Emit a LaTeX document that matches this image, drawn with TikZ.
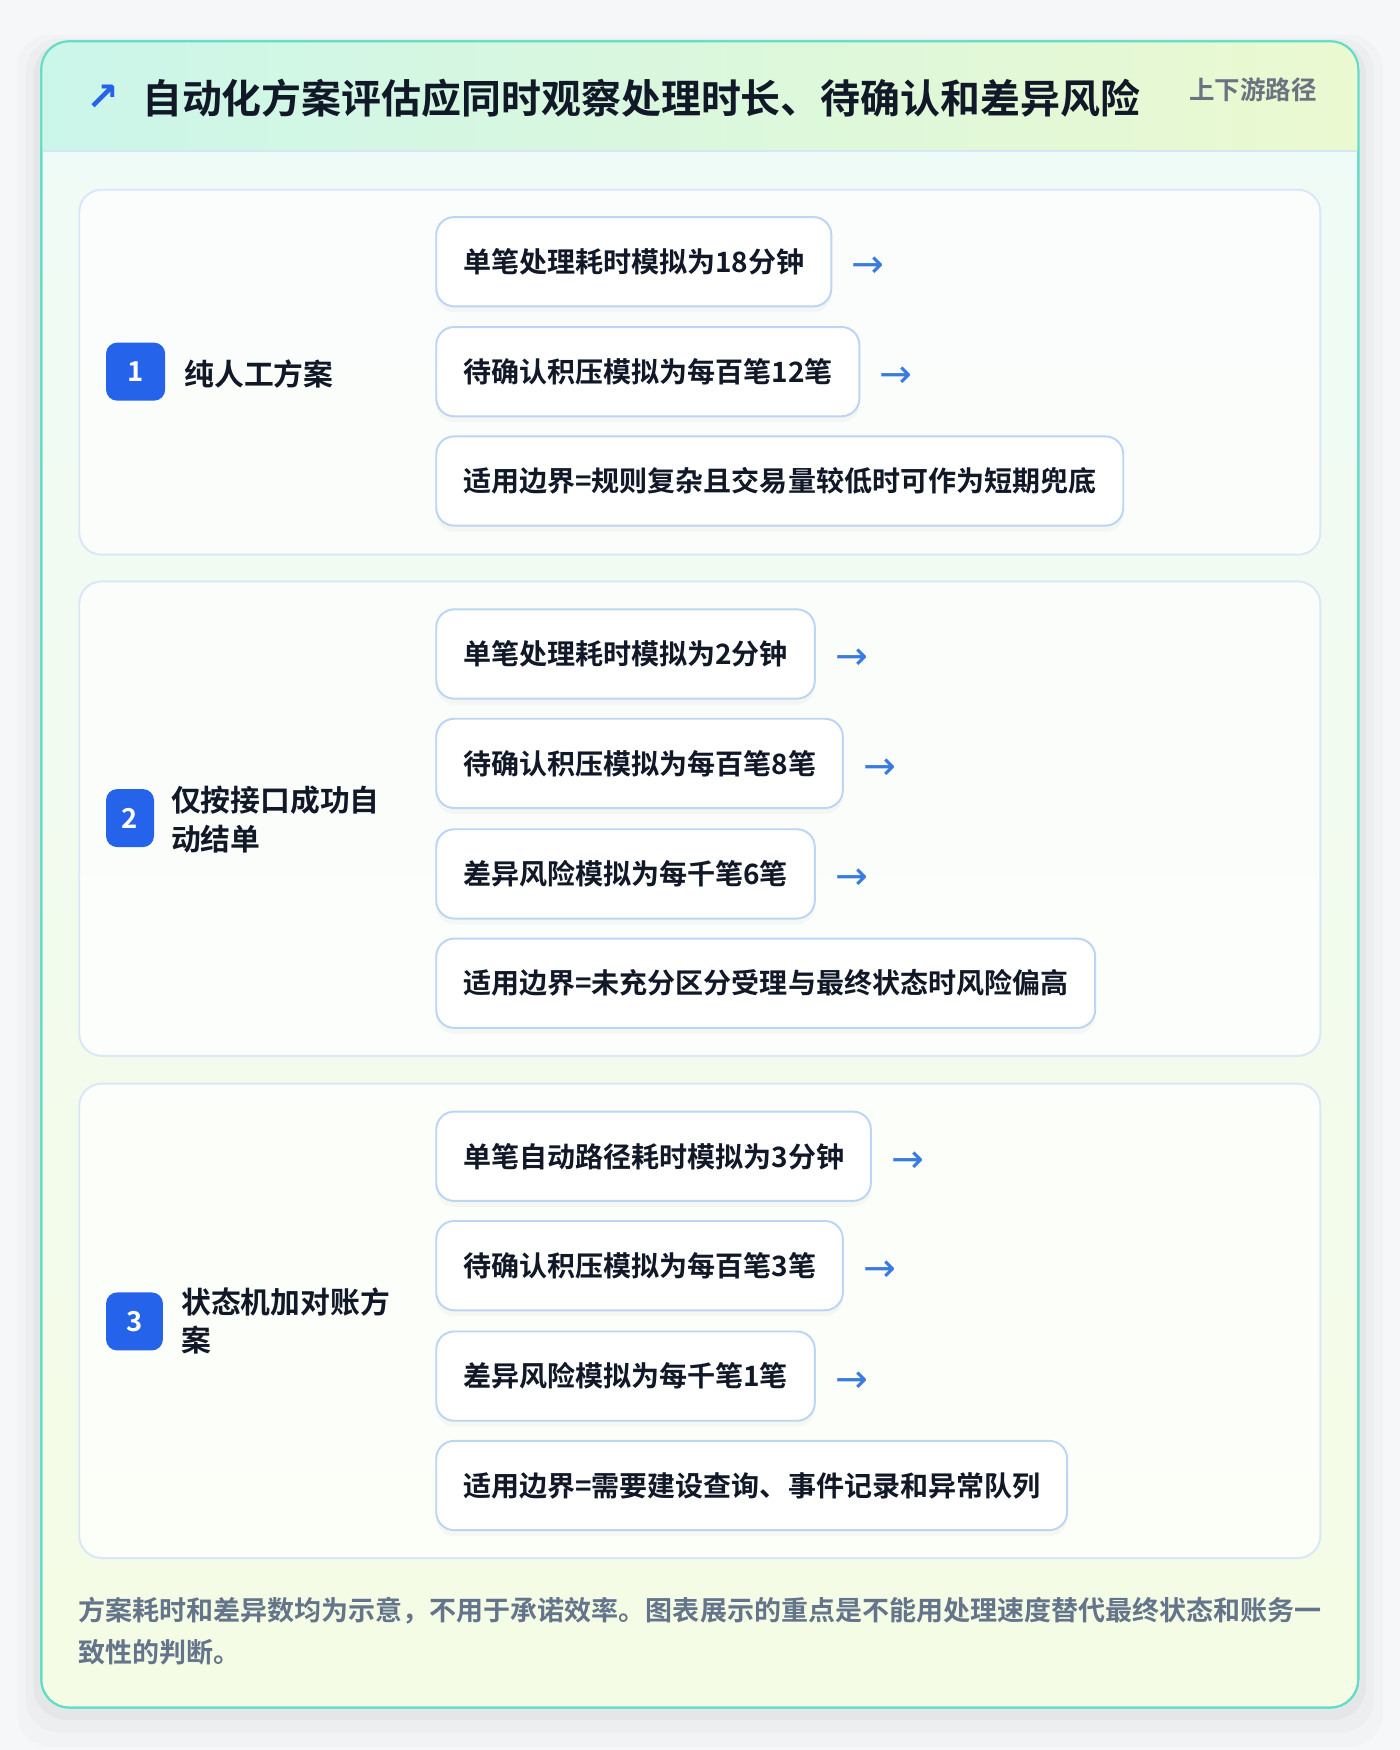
\documentclass[tikz,border=0pt]{standalone}
\usepackage{fontspec}
\setmainfont{Noto Sans CJK SC}[BoldFont={Noto Sans CJK SC Bold}]
\newfontfamily\symfont{DejaVu Sans}
\usetikzlibrary{positioning,shadows}
\definecolor{pagebg}{HTML}{F6F7F8}
\definecolor{cardline}{HTML}{5EDDC7}
\definecolor{headleft}{HTML}{CBF6EA}
\definecolor{headright}{HTML}{EBF9D0}
\definecolor{bodytop}{HTML}{EFFBF7}
\definecolor{bodybottom}{HTML}{F5FCE5}
\definecolor{headline}{HTML}{D6E6F5}
\definecolor{panelline}{HTML}{D9E7F8}
\definecolor{boxline}{HTML}{BCD5F5}
\definecolor{inkblack}{HTML}{111827}
\definecolor{badgeblue}{HTML}{2563EB}
\definecolor{arrowblue}{HTML}{3A7BE0}
\definecolor{tagGray}{HTML}{6B7280}
\definecolor{noteGray}{HTML}{64748B}
\tikzset{
  itembox/.style={draw=boxline, line width=1pt, fill=white, rounded corners=0.32cm,
    anchor=west, minimum height=1.6cm, inner xsep=0.48cm, inner ysep=0pt,
    text=inkblack, font=\fontsize{14.3}{17}\selectfont\bfseries,
    drop shadow={opacity=0.05, shadow xshift=0pt, shadow yshift=-3pt}},
  arrowmark/.style={text=arrowblue, inner sep=0pt, yshift=-0.1cm,
    font=\symfont\fontsize{20}{20}\selectfont},
  badge/.style={fill=badgeblue, text=white, rounded corners=0.2cm,
    minimum height=1.04cm, minimum width=#1, inner sep=0pt,
    font=\fontsize{14}{14}\selectfont\bfseries},
  grouplabel/.style={anchor=west, align=left, text=inkblack, inner sep=0pt,
    font=\fontsize{15.2}{19.8}\selectfont\bfseries},
  panel/.style={draw=panelline, line width=1pt, fill=white, fill opacity=0.75,
    rounded corners=0.4cm}
}
\begin{document}
\begin{tikzpicture}[x=0.02cm, y=-0.02cm]
  \fill[pagebg] (0,0) rectangle (1254,1568);
  \useasboundingbox (0,0) rectangle (1254,1568);
  % card and its shadow
  \foreach \s/\o in {22/0.015, 14/0.02, 7/0.03}
    \fill[black, opacity=\o, rounded corners=0.6cm] (37-\s,40-\s*0.4) rectangle (1217+\s,1530+\s*1.6);
  \draw[cardline, line width=1pt, rounded corners=0.5cm, top color=bodytop,
    bottom color=bodybottom] (37,37) rectangle (1217,1530);
  \begin{scope}
    \clip[rounded corners=0.5cm] (37,37) rectangle (1217,1530);
    \shade[left color=headleft, right color=headright] (37,37) rectangle (1217,135);
  \end{scope}
  \draw[headline, line width=1pt] (37,135) -- (1217,135);
  \draw[cardline, line width=1pt, rounded corners=0.5cm] (37,37) rectangle (1217,1530);

  % header
  \node[text=badgeblue, inner sep=0pt, font=\symfont\fontsize{20}{20}\selectfont\bfseries] (mark) at (92,88) {↗};
  \node[anchor=west, inner sep=0pt, text=inkblack, font=\fontsize{20.36}{24}\selectfont\bfseries]
    (title) at (127,88) {自动化方案评估应同时观察处理时长、待确认和差异风险};
  \node[anchor=east, inner sep=0pt, text=tagGray, font=\fontsize{13}{15}\selectfont\bfseries]
    (tag) at (1180,80) {上下游路径};

  % scheme 1
  \draw[panel] (71,170) rectangle (1183,497);
  \node[badge=1.06cm] (n1) at (121.5,333) {1};
  \node[grouplabel] (g1) at (165,335) {纯人工方案};
  \node[itembox] (a11) at (390,234.5) {单笔处理耗时模拟为18分钟};
  \node[arrowmark, right=0.34cm of a11] (r11) {→};
  \node[itembox] (a12) at (390,333) {待确认积压模拟为每百笔12笔};
  \node[arrowmark, right=0.34cm of a12] (r12) {→};
  \node[itembox] (a13) at (390,431) {适用边界=规则复杂且交易量较低时可作为短期兜底};

  % scheme 2
  \draw[panel] (71,521) rectangle (1183,946);
  \node[badge=0.86cm] (n2) at (116.5,733) {2};
  \node[grouplabel] (g2) at (153,734.5) {仅按接口成功自\\动结单};
  \node[itembox] (a21) at (390,586) {单笔处理耗时模拟为2分钟};
  \node[arrowmark, right=0.34cm of a21] (r21) {→};
  \node[itembox] (a22) at (390,684) {待确认积压模拟为每百笔8笔};
  \node[arrowmark, right=0.34cm of a22] (r22) {→};
  \node[itembox] (a23) at (390,783) {差异风险模拟为每千笔6笔};
  \node[arrowmark, right=0.34cm of a23] (r23) {→};
  \node[itembox] (a24) at (390,881) {适用边界=未充分区分受理与最终状态时风险偏高};

  % scheme 3
  \draw[panel] (71,971) rectangle (1183,1396);
  \node[badge=1.02cm] (n3) at (120.5,1184) {3};
  \node[grouplabel] (g3) at (162,1183.5) {状态机加对账方\\案};
  \node[itembox] (a31) at (390,1036) {单笔自动路径耗时模拟为3分钟};
  \node[arrowmark, right=0.34cm of a31] (r31) {→};
  \node[itembox] (a32) at (390,1134) {待确认积压模拟为每百笔3笔};
  \node[arrowmark, right=0.34cm of a32] (r32) {→};
  \node[itembox] (a33) at (390,1233) {差异风险模拟为每千笔1笔};
  \node[arrowmark, right=0.34cm of a33] (r33) {→};
  \node[itembox] (a34) at (390,1331) {适用边界=需要建设查询、事件记录和异常队列};

  % note
  \node[anchor=west, align=left, inner sep=0pt, text=noteGray,
    font=\fontsize{13.78}{21}\selectfont\bfseries] (note) at (70,1461.5)
    {方案耗时和差异数均为示意，不用于承诺效率。图表展示的重点是不能用处理速度替代最终状态和账务一\\致性的判断。};
\end{tikzpicture}
\end{document}
